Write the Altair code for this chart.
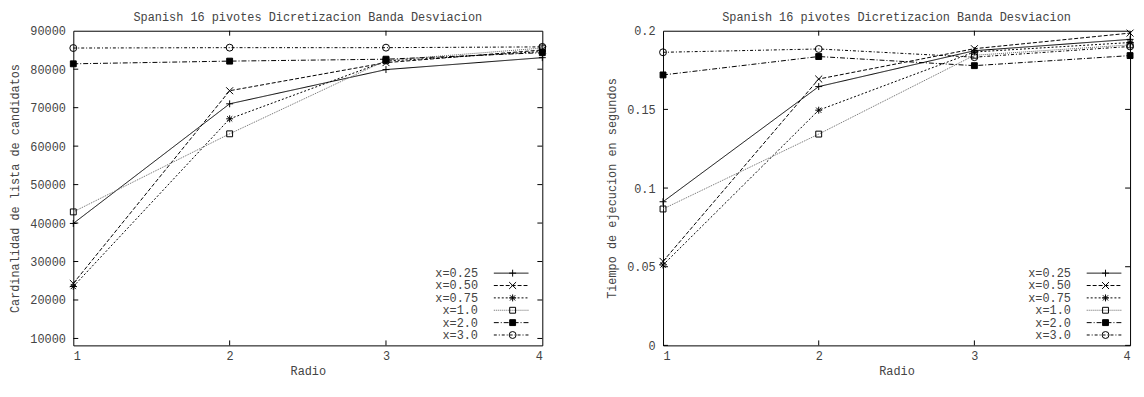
import altair as alt
import pandas as pd

# ---------------- data ----------------
radios = [1, 2, 3, 4]
series = ["x=0.25", "x=0.50", "x=0.75", "x=1.0", "x=2.0", "x=3.0"]

card_025 = [39900, 71000, 79900, 83000]
card_050 = [24300, 74400, 81700, 85000]
card_075 = [23500, 67100, 82100, 84600]
card_100 = [42900, 63200, 82300, 85500]
card_200 = [81400, 82100, 82600, 84300]
card_300 = [85500, 85600, 85600, 85800]

time_025 = [0.0913, 0.1645, 0.1873, 0.1945]
time_050 = [0.0534, 0.1693, 0.1886, 0.1985]
time_075 = [0.0511, 0.1495, 0.1865, 0.1925]
time_100 = [0.0867, 0.1343, 0.1844, 0.1910]
time_200 = [0.1719, 0.1836, 0.1778, 0.1842]
time_300 = [0.1863, 0.1884, 0.1832, 0.1900]

card_ticks = [10000, 20000, 30000, 40000, 50000, 60000, 70000, 80000, 90000]
time_ticks = [0, 0.05, 0.1, 0.15, 0.2]
radio_ticks = [1, 2, 3, 4]

title_text = "Spanish 16 pivotes Dicretizacion Banda Desviacion"
xtitle = "Radio"
ytitle_left = "Cardinalidad de lista de candidatos"
ytitle_right = "Tiempo de ejecucion en segundos"

# ---------------- styles ----------------
FONT = "Liberation Mono"
TXT = "#444444"
PLOT_H = 318
LEG_Y = 239
TICK = 5
dashes = [[1, 0], [4, 2], [2, 2], [1, 1], [5, 2, 1, 2], [3, 2, 1, 2]]
line_colors = ["black", "black", "black", "#666666", "black", "black"]
shapes = [
    "M-1,0L1,0M0,-1L0,1",
    "M-1,-1L1,1M-1,1L1,-1",
    "M-1,0L1,0M0,-1L0,1M-0.75,-0.75L0.75,0.75M-0.75,0.75L0.75,-0.75",
    "M-0.85,-0.85L0.85,-0.85L0.85,0.85L-0.85,0.85Z",
    "M-0.85,-0.85L0.85,-0.85L0.85,0.85L-0.85,0.85Z",
    "circle",
]
fills = ["transparent", "transparent", "transparent", "transparent", "black", "transparent"]
strokes = ["black"] * 6


def long_df(cols):
    rows = []
    for s, vals in zip(series, cols):
        for r, v in zip(radios, vals):
            rows.append({"radio": r, "value": v, "s1": s, "s2": s})
    return pd.DataFrame(rows)


df_card = long_df([card_025, card_050, card_075, card_100, card_200, card_300])
df_time = long_df([time_025, time_050, time_075, time_100, time_200, time_300])


def panel(df, ydom, yticks, yfmt, ytitle, width, lx_line, lx_mark):
    xsc = alt.Scale(domain=[1, 4], nice=False, zero=False)
    ysc = alt.Scale(domain=ydom, nice=False, zero=False)
    xax = alt.Axis(values=radio_ticks, format="d", title=xtitle)
    yax = alt.Axis(values=yticks, format=yfmt, title=ytitle)
    X = alt.X("radio:Q", scale=xsc, axis=xax)
    Y = alt.Y("value:Q", scale=ysc, axis=yax)
    line_leg = dict(
        title=None, orient="none", legendX=lx_line, legendY=LEG_Y,
        symbolType="M-3.5,0L3.5,0", symbolSize=100,
        symbolStrokeWidth=1, symbolFillColor="transparent",
        labelAlign="right", labelOffset={"expr": "-39.5"},
        labelFont=FONT, labelFontSize=12, labelColor=TXT,
        rowPadding=0.5, padding=0,
    )
    mark_leg = dict(
        title=None, orient="none", legendX=lx_mark, legendY=LEG_Y,
        symbolSize=49, symbolStrokeWidth=1, symbolStrokeColor="black",
        labelAlign="right", labelOffset={"expr": "-38"},
        labelFont=FONT, labelFontSize=12, labelExpr="' '",
        labelOpacity=0, rowPadding=0.5, padding=0,
    )
    base = alt.Chart(df)
    lines = base.mark_line(strokeWidth=1).encode(
        x=X, y=Y,
        strokeDash=alt.StrokeDash(
            "s1:N", scale=alt.Scale(domain=series, range=dashes),
            legend=alt.Legend(**line_leg)),
        color=alt.Color(
            "s1:N", scale=alt.Scale(domain=series, range=line_colors),
            legend=alt.Legend(**line_leg)),
    )
    points = base.mark_point(size=49, strokeWidth=1, opacity=1).encode(
        x=X, y=Y,
        shape=alt.Shape("s2:N", scale=alt.Scale(range=shapes),
                        legend=alt.Legend(**mark_leg)),
        fill=alt.Fill("s2:N", scale=alt.Scale(range=fills),
                      legend=alt.Legend(**mark_leg)),
        stroke=alt.Stroke("s2:N", scale=alt.Scale(range=strokes),
                          legend=alt.Legend(**mark_leg)),
    )
    # inward (gnuplot style) tick marks on all four borders
    inner_y = [v for v in yticks if v != ydom[1]]
    inner_x = [v for v in radio_ticks if v not in (1, 4)]
    ty = alt.Chart(pd.DataFrame({"v": inner_y}))
    tx = alt.Chart(pd.DataFrame({"v": inner_x}))
    rk = dict(strokeWidth=1, color="black")
    t_left = ty.mark_rule(**rk).encode(
        y=alt.Y("v:Q", scale=ysc, axis=yax),
        x=alt.datum(1, scale=xsc, axis=xax), x2=alt.value(TICK))
    t_right = ty.mark_rule(**rk).encode(
        y=alt.Y("v:Q", scale=ysc, axis=yax),
        x=alt.datum(4, axis=xax), x2=alt.value(width - TICK))
    t_bot = tx.mark_rule(**rk).encode(
        x=alt.X("v:Q", scale=xsc, axis=xax),
        y=alt.datum(ydom[0], axis=yax), y2=alt.value(PLOT_H - TICK))
    t_top = tx.mark_rule(**rk).encode(
        x=alt.X("v:Q", scale=xsc, axis=xax),
        y=alt.datum(ydom[1], axis=yax), y2=alt.value(TICK))
    return alt.layer(lines, points, t_left, t_right, t_bot, t_top).properties(
        width=width, height=PLOT_H,
        title=alt.Title(title_text, anchor="middle", offset=1),
    )


left = panel(df_card, [8200, 90000], card_ticks, "d", ytitle_left, 474, 436.5, 438)
right = panel(df_time, [0, 0.2], time_ticks, "~g", ytitle_right, 472, 439.7, 441.2)

chart = alt.hconcat(left, right, spacing=57).resolve_scale(
    strokeDash="independent", color="independent", shape="independent",
    fill="independent", stroke="independent"
).properties(
    padding={"left": 0, "top": 0, "right": 0, "bottom": 0}
).configure_view(
    stroke="black", strokeWidth=1
).configure_axis(
    labelFont=FONT, labelFontSize=12, labelColor=TXT,
    titleFont=FONT, titleFontSize=12, titleFontWeight="normal", titleColor=TXT,
    grid=False, domain=False, ticks=False, tickSize=0,
    labelPadding=8, titlePadding=8,
).configure_axisX(
    labelPadding=5, titlePadding=4,
).configure_legend(
    labelFont=FONT, labelFontSize=12, labelColor=TXT,
).configure_title(
    font=FONT, fontSize=12, fontWeight="normal", color=TXT,
)

chart.save("out.html", embed_options={"renderer": "svg", "actions": False})
